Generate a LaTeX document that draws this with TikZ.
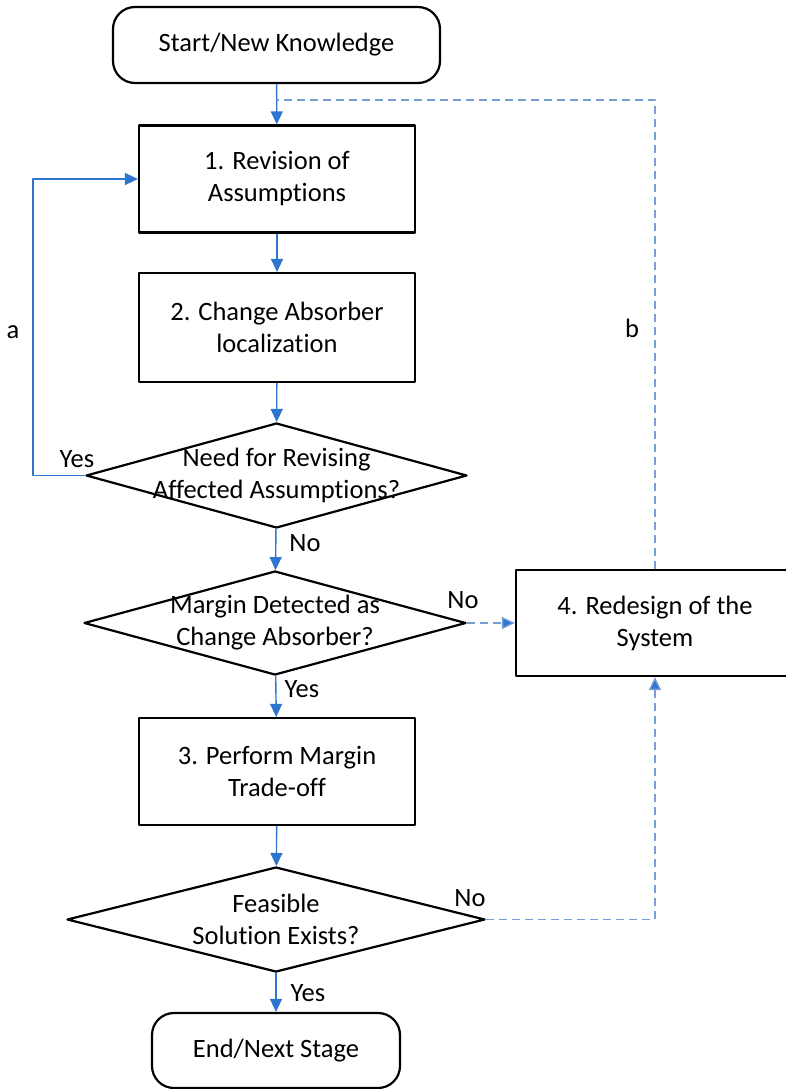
\documentclass[tikz,border=0pt]{standalone}
\usepackage{fontspec}
\setmainfont{Carlito}[Ligatures=NoCommon]
\usetikzlibrary{shapes.geometric,arrows.meta}
\definecolor{flowblue}{RGB}{46,117,208}
\definecolor{loopblue}{RGB}{120,158,214}

\begin{document}
\begin{tikzpicture}[x=1pt,y=-1pt,line join=round,
  every node/.style={font=\fontsize{26.5}{32}\selectfont},
  terminal/.style={draw,line width=2.2pt,rounded corners=22pt,inner sep=0pt},
  stepbox/.style={draw,line width=2.2pt,minimum width=276pt,minimum height=107pt,inner sep=0pt,align=center},
  decision/.style={draw,diamond,line width=2.2pt,inner sep=0pt},
  flow/.style={draw=flowblue,line width=1.4pt,-{Triangle[length=13pt,width=12pt]}},
  backflow/.style={draw=loopblue,line width=1.4pt,dash pattern=on 8pt off 5pt},
  backarrow/.style={backflow,-{Triangle[length=13pt,width=12pt,fill=flowblue]}}]
  \useasboundingbox (0,0) rectangle (785,1089);
  % main column
  \node[terminal,minimum width=327pt,minimum height=76pt] (start) at (276.5,45) {Start/New Knowledge};
  \node[stepbox] (rev) at (277,179) {1. Revision of\\Assumptions};
  \node[stepbox,minimum height=109pt] (loc) at (277,327.5) {2. Change Absorber\\localization};
  \node[decision,minimum width=381pt,minimum height=105pt] (need) at (276.5,475.5) {};
  \node[align=center] (needtext) at (need) {Need for Revising\\Affected Assumptions?};
  \node[decision,minimum width=382pt,minimum height=104pt] (margin) at (275,623) {};
  \node[align=center] (margintext) at (margin) {Margin Detected as\\Change Absorber?};
  \node[stepbox] (trade) at (277,771.5) {3. Perform Margin\\Trade-off};
  \node[decision,minimum width=418pt,minimum height=105pt] (feas) at (276,919.5) {};
  \node[align=center] (feastext) at (feas) {Feasible\\Solution Exists?};
  \node[terminal,minimum width=248pt,minimum height=75pt] (stop) at (276,1050.5) {End/Next Stage};
  % side box
  \node[stepbox,minimum width=278pt,minimum height=106pt] (redesign) at (655,623) {4. Redesign of the\\System};
  % helper points
  \coordinate (aturn) at (33,475.5);
  \coordinate (bjoin) at (277,100);
  % connectors
  \draw[flow] (start) -- (rev);
  \draw[flow] (rev) -- (loc);
  \draw[flow] (loc) -- (need);
  \draw[flow] (need) -- (margin);
  \draw[flow] (margin) -- (trade);
  \draw[flow] (trade) -- (feas);
  \draw[flow] (feas) -- (stop);
  \draw[flow] (need.west) -- (aturn) |- (rev.west);
  \draw[backarrow] (margin.east) -- (redesign.west);
  \draw[backarrow] (feas.east) -| (redesign.south);
  \draw[backflow] (redesign.north) |- (bjoin);
  % labels
  \node (yes1) at (77,459) {Yes};
  \node (no1) at (305,543) {No};
  \node (no2) at (463,600) {No};
  \node (yes2) at (302,689) {Yes};
  \node (no3) at (470,898) {No};
  \node (yes3) at (308,993) {Yes};
  \node (alabel) at (13,332) {a};
  \node (blabel) at (632,328) {b};
\end{tikzpicture}
\end{document}
